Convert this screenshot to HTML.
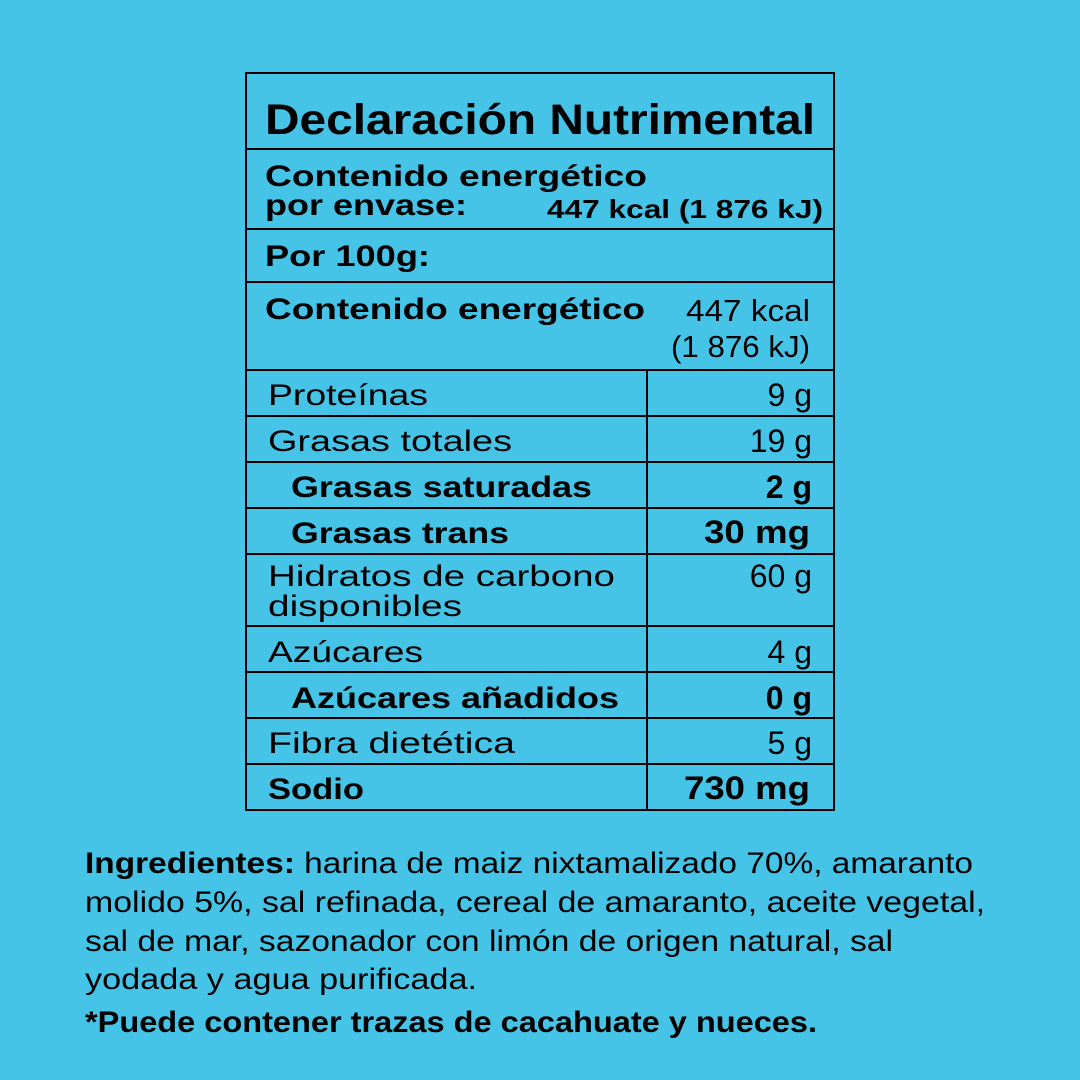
<!DOCTYPE html>
<html><head><meta charset="utf-8"><style>
html,body{margin:0;padding:0;background:#45c4e8;}
svg{display:block}
text{font-family:"Liberation Sans",sans-serif;fill:#000;}
.b{font-weight:bold}
</style></head><body>
<svg width="1080" height="1080" viewBox="0 0 1080 1080" xmlns="http://www.w3.org/2000/svg">
<rect width="1080" height="1080" fill="#45c4e8"/>
<g stroke="#000" stroke-width="2" fill="none">
<rect x="246" y="73" width="588" height="737"/>
<line x1="246" y1="149" x2="834" y2="149"/>
<line x1="246" y1="229" x2="834" y2="229"/>
<line x1="246" y1="282" x2="834" y2="282"/>
<line x1="246" y1="370" x2="834" y2="370"/>
<line x1="246" y1="416" x2="834" y2="416"/>
<line x1="246" y1="462" x2="834" y2="462"/>
<line x1="246" y1="508" x2="834" y2="508"/>
<line x1="246" y1="554" x2="834" y2="554"/>
<line x1="246" y1="626" x2="834" y2="626"/>
<line x1="246" y1="672" x2="834" y2="672"/>
<line x1="246" y1="718" x2="834" y2="718"/>
<line x1="246" y1="764" x2="834" y2="764"/>
<line x1="647" y1="370" x2="647" y2="810"/>
</g>
<text class="b" x="265" y="134" font-size="43" textLength="550" lengthAdjust="spacingAndGlyphs">Declaración Nutrimental</text>
<text class="b" x="265" y="186" font-size="30" textLength="382" lengthAdjust="spacingAndGlyphs">Contenido energético</text>
<text class="b" x="265" y="215" font-size="30" textLength="202" lengthAdjust="spacingAndGlyphs">por envase:</text>
<text class="b" x="547" y="218" font-size="26" textLength="276" lengthAdjust="spacingAndGlyphs">447 kcal (1 876 kJ)</text>
<text class="b" x="265" y="266" font-size="30" textLength="165" lengthAdjust="spacingAndGlyphs">Por 100g:</text>
<text class="b" x="265" y="319" font-size="30" textLength="380" lengthAdjust="spacingAndGlyphs">Contenido energético</text>
<text x="686" y="321" font-size="31" textLength="124" lengthAdjust="spacingAndGlyphs">447 kcal</text>
<text x="671" y="357" font-size="31" textLength="139" lengthAdjust="spacingAndGlyphs">(1 876 kJ)</text>

<text x="268" y="405" font-size="30" textLength="160" lengthAdjust="spacingAndGlyphs">Proteínas</text>
<text x="812" y="406" font-size="32" text-anchor="end">9 g</text>
<text x="268" y="451" font-size="30" textLength="244" lengthAdjust="spacingAndGlyphs">Grasas totales</text>
<text x="812" y="452" font-size="32" text-anchor="end">19 g</text>
<text class="b" x="291" y="497" font-size="30" textLength="301" lengthAdjust="spacingAndGlyphs">Grasas saturadas</text>
<text class="b" x="812" y="498" font-size="32" text-anchor="end">2 g</text>
<text class="b" x="291" y="543" font-size="30" textLength="218" lengthAdjust="spacingAndGlyphs">Grasas trans</text>
<text class="b" x="704" y="543" font-size="32" textLength="106" lengthAdjust="spacingAndGlyphs">30 mg</text>
<text x="268" y="586" font-size="30" textLength="347" lengthAdjust="spacingAndGlyphs">Hidratos de carbono</text>
<text x="268" y="616" font-size="30" textLength="194" lengthAdjust="spacingAndGlyphs">disponibles</text>
<text x="812" y="587" font-size="32" text-anchor="end">60 g</text>
<text x="268" y="662" font-size="30" textLength="155" lengthAdjust="spacingAndGlyphs">Azúcares</text>
<text x="812" y="663" font-size="32" text-anchor="end">4 g</text>
<text class="b" x="291" y="708" font-size="30" textLength="328" lengthAdjust="spacingAndGlyphs">Azúcares añadidos</text>
<text class="b" x="812" y="709" font-size="32" text-anchor="end">0 g</text>
<text x="268" y="753" font-size="30" textLength="247" lengthAdjust="spacingAndGlyphs">Fibra dietética</text>
<text x="812" y="754" font-size="32" text-anchor="end">5 g</text>
<text class="b" x="268" y="799" font-size="30" textLength="96" lengthAdjust="spacingAndGlyphs">Sodio</text>
<text class="b" x="684" y="799" font-size="32" textLength="126" lengthAdjust="spacingAndGlyphs">730 mg</text>

<text x="85" y="873" font-size="30" textLength="888" lengthAdjust="spacingAndGlyphs"><tspan font-weight="bold">Ingredientes:</tspan> harina de maiz nixtamalizado 70%, amaranto</text>
<text x="85" y="912" font-size="30" textLength="900" lengthAdjust="spacingAndGlyphs">molido 5%, sal refinada, cereal de amaranto, aceite vegetal,</text>
<text x="85" y="951" font-size="30" textLength="808" lengthAdjust="spacingAndGlyphs">sal de mar, sazonador con limón de origen natural, sal</text>
<text x="85" y="989" font-size="30" textLength="392" lengthAdjust="spacingAndGlyphs">yodada y agua purificada.</text>
<text class="b" x="85" y="1032" font-size="30" textLength="732" lengthAdjust="spacingAndGlyphs">*Puede contener trazas de cacahuate y nueces.</text>
</svg>
</body></html>
